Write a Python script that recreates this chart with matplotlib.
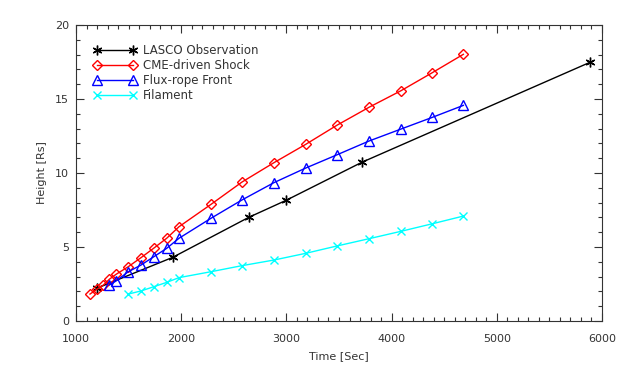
import matplotlib
matplotlib.use("Agg")
from matplotlib import pyplot as plt
from matplotlib.ticker import MultipleLocator

# data
lasco_t = [1197, 1919, 2641, 2996, 3716, 5886]
lasco_h = [2.21, 4.30, 7.00, 8.15, 10.72, 17.48]

shock_t = [1133, 1197, 1260, 1317, 1380, 1497, 1618, 1741, 1862, 1979,
           2283, 2578, 2882, 3182, 3481, 3785, 4089, 4387, 4682]
shock_h = [1.82, 2.14, 2.43, 2.82, 3.15, 3.67, 4.28, 4.93, 5.59, 6.37,
           7.88, 9.39, 10.70, 11.93, 13.23, 14.44, 15.56, 16.78, 18.02]

rope_t = [1317, 1380, 1497, 1618, 1741, 1862, 1979, 2283, 2578, 2882,
          3182, 3481, 3785, 4089, 4387, 4682]
rope_h = [2.43, 2.70, 3.33, 3.78, 4.35, 4.91, 5.59, 6.94, 8.18, 9.35,
          10.33, 11.23, 12.16, 12.97, 13.76, 14.57]

fil_t = [1497, 1618, 1741, 1862, 1979, 2283, 2578, 2882, 3182, 3481,
         3785, 4089, 4387, 4682]
fil_h = [1.82, 2.03, 2.32, 2.61, 2.93, 3.33, 3.74, 4.12, 4.57, 5.07,
         5.56, 6.06, 6.57, 7.09]

axcol = '#333333'
plt.rcParams['font.family'] = 'DejaVu Sans'

fig = plt.figure(figsize=(6.25, 3.75), dpi=100)
ax = fig.add_axes([0.1216, 0.144, 0.8416, 0.7893])

ax.plot(lasco_t, lasco_h, color='black', lw=1, marker=(6, 2, 0), ms=7,
        mew=1, label='LASCO Observation')
ax.plot(shock_t, shock_h, color='red', lw=1, marker='D', ms=5, mew=1,
        fillstyle='none', label='CME-driven Shock')
ax.plot(rope_t, rope_h, color='blue', lw=1, marker='^', ms=6.5, mew=1,
        fillstyle='none', label='Flux-rope Front')
ax.plot(fil_t, fil_h, color='cyan', lw=1, marker='x', ms=6, mew=1,
        label='Filament')

ax.set_xlim(1000, 6000)
ax.set_ylim(0, 20)
ax.xaxis.set_major_locator(MultipleLocator(1000))
ax.xaxis.set_minor_locator(MultipleLocator(100))
ax.yaxis.set_major_locator(MultipleLocator(5))
ax.yaxis.set_minor_locator(MultipleLocator(1))
ax.tick_params(which='both', direction='in', top=True, right=True,
               colors=axcol, labelsize=8, width=0.8)
ax.tick_params(which='major', length=6, pad=5)
ax.tick_params(which='minor', length=3)
ax.tick_params(axis='x', which='major', pad=9.5)
for s in ax.spines.values():
    s.set_color(axcol)
    s.set_linewidth(0.8)

ax.set_xlabel('Time [Sec]', fontsize=8, color=axcol, labelpad=5)
ax.set_ylabel('Height [Rs]', fontsize=8, color=axcol, labelpad=6)

leg = ax.legend(loc='upper left', frameon=False, numpoints=2, fontsize=8.5,
                handlelength=3.64, handletextpad=0.55, labelspacing=0.17,
                borderaxespad=0.0, bbox_to_anchor=(0.024, 0.951))
for t in leg.get_texts():
    t.set_color(axcol)

fig.savefig('out.png', dpi=100)
